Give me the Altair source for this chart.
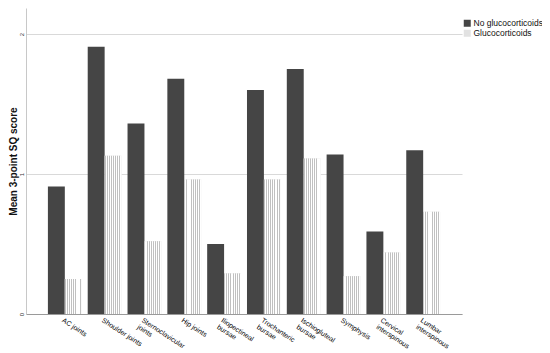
import altair as alt
import pandas as pd

categories = ["AC joints", "Shoulder joints", "Sternoclavicular|joints", "Hip joints",
              "Iliopectineal|bursae", "Trochanteric|bursae", "Ischiogluteal|bursae",
              "Symphysis", "Cervical|interspinous", "Lumbar|interspinous"]
no_gc = [0.91, 1.91, 1.36, 1.68, 0.50, 1.60, 1.75, 1.14, 0.59, 1.17]
gc = [0.25, 1.13, 0.52, 0.96, 0.29, 0.96, 1.11, 0.27, 0.44, 0.73]
series = ["No glucocorticoids", "Glucocorticoids"]
y_ticks = [0, 1, 2]

rows = []
for c, a, b in zip(categories, no_gc, gc):
    rows.append({"category": c, "series": series[0], "value": a})
    rows.append({"category": c, "series": series[1], "value": b})
df = pd.DataFrame(rows)

LEFT = 18
W, H = 436, 306
YMAX = 2.186
P_IN, P_OUT = 0.15, 0.55
FONT = "Liberation Sans"


def vstripes(n=8, frac=0.45, c1="#c0c0c0", c2="#ffffff"):
    stops = []
    for i in range(n):
        a = i / n
        m = (i + frac) / n
        e = (i + 1) / n
        stops += [{"offset": a, "color": c1}, {"offset": m, "color": c1},
                  {"offset": m, "color": c2}, {"offset": e, "color": c2}]
    return {"gradient": "linear", "x1": 0, "y1": 0, "x2": 1, "y2": 0, "stops": stops}


x_enc = alt.X("category:N", sort=categories, title=None,
              scale=alt.Scale(paddingInner=P_IN, paddingOuter=P_OUT),
              axis=alt.Axis(labelAngle=33, labelAlign="left", labelBaseline="top",
                            labelPadding=2, ticks=False, labelFontSize=7, labelColor="#000000",
                            labelExpr="split(datum.label, '|')", labelLineHeight=8,
                            labelOverlap=False, labelLimit=0, labelFont=FONT,
                            domainColor="#9a9a9a", grid=False))
xo_enc = alt.XOffset("series:N", sort=series, scale=alt.Scale(paddingInner=0, paddingOuter=0))
y_enc = alt.Y("value:Q", title="Mean 3-point SQ score",
              scale=alt.Scale(domain=[0, YMAX], nice=False),
              axis=alt.Axis(values=y_ticks, format="d", ticks=False, labelFontSize=6,
                            labelAngle=270, labelAlign="center", labelBaseline="bottom",
                            labelPadding=2, labelColor="#333333", labelOverlap=False,
                            labelFlush=False, titleFontSize=10,
                            titleFontWeight="bold", titleColor="#111111",
                            titleBaseline="top", titleX=-LEFT + 0.3, titleAngle=270,
                            titleFont=FONT, labelFont=FONT, domainColor="#c8c8c8",
                            grid=True, gridColor="#d9d9d9", gridWidth=1))

base = alt.Chart(df).mark_bar().encode(
    x=x_enc, xOffset=xo_enc, y=y_enc,
    color=alt.Color("series:N", sort=series, title=None,
                    scale=alt.Scale(domain=series, range=["#454545", "#e2e2e2"]),
                    legend=alt.Legend(orient="none", legendX=462 - 8 - LEFT + 1, legendY=11,
                                      symbolType="square", symbolSize=49, labelFontSize=8.5,
                                      labelFont=FONT, labelColor="#111111", labelOffset=2,
                                      rowPadding=1, padding=0, symbolStrokeWidth=0))
)

light = alt.Chart(df).transform_filter(f"datum.series === '{series[1]}'").mark_bar().encode(
    x=x_enc, xOffset=xo_enc, y=y_enc,
    color={"value": vstripes()}
)

chart = alt.layer(base, light).properties(
    width=W, height=H,
    autosize=alt.AutoSizeParams(type="none"),
    padding={"left": LEFT, "top": 0, "right": 80, "bottom": 38},
    background="#ffffff"
).configure_view(stroke=None)

chart.save("out.html", embed_options={"renderer": "svg", "actions": False})
